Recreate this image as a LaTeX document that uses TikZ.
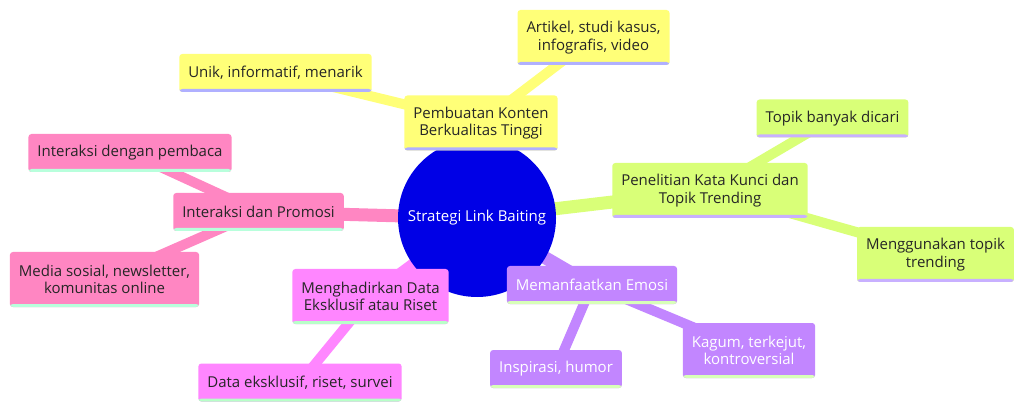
\documentclass[tikz,border=0pt]{standalone}
\usepackage{fontspec}
\setmainfont{Open Sans}
\usetikzlibrary{backgrounds}

\definecolor{rootblue}{RGB}{0,0,230}
\definecolor{secyellow}{RGB}{255,255,120}
\definecolor{secgreen}{RGB}{217,255,120}
\definecolor{secpurple}{RGB}{194,134,255}
\definecolor{secmagenta}{RGB}{255,134,255}
\definecolor{secpink}{RGB}{255,134,194}
\definecolor{lineyellow}{RGB}{176,176,255}
\definecolor{linegreen}{RGB}{200,176,255}
\definecolor{linepurple}{RGB}{216,255,184}
\definecolor{linemagenta}{RGB}{184,255,200}
\definecolor{linepink}{RGB}{184,255,220}

\begin{document}
\begin{tikzpicture}[x=1pt,y=-1pt,
  font=\fontsize{15}{17.5}\selectfont,
  mmbox/.style 2 args={fill=#1, rounded corners=3pt, align=center,
    inner xsep=9pt, inner ysep=0pt, minimum height=38pt, text=black!85,
    path picture={\fill[#2] ([yshift=3pt]path picture bounding box.south west)
      rectangle (path picture bounding box.south east);}},
  twoline/.style={minimum height=55pt},
  mainedge/.style={line width=13pt},
  subedge/.style={line width=10pt}]
\useasboundingbox (0,0) rectangle (1024,411);

% root
\node[circle, fill=rootblue, minimum size=158pt, inner sep=0pt, text=white]
  (root) at (477,218) {Strategi Link Baiting};

% branch Pembuatan Konten
\node[mmbox={secyellow}{lineyellow}, twoline] (konten) at (481,123)
  {Pembuatan Konten\\Berkualitas Tinggi};
\node[mmbox={secyellow}{lineyellow}] (unik) at (275.5,73) {Unik, informatif, menarik};
\node[mmbox={secyellow}{lineyellow}, twoline] (artikel) at (593.5,37.5)
  {Artikel, studi kasus,\\infografis, video};

% branch Penelitian Kata Kunci
\node[mmbox={secgreen}{linegreen}, twoline] (kunci) at (710,190.5)
  {Penelitian Kata Kunci dan\\Topik Trending};
\node[mmbox={secgreen}{linegreen}] (dicari) at (832.5,118.5) {Topik banyak dicari};
\node[mmbox={secgreen}{linegreen}, twoline] (trending) at (935.5,254.5)
  {Menggunakan topik\\trending};

% branch Memanfaatkan Emosi
\node[mmbox={secpurple}{linepurple}, text=white] (emosi) at (592,285) {Memanfaatkan Emosi};
\node[mmbox={secpurple}{linepurple}, text=white] (humor) at (556,369) {Inspirasi, humor};
\node[mmbox={secpurple}{linepurple}, text=white, twoline] (kagum) at (749,350.5)
  {Kagum, terkejut,\\kontroversial};

% branch Menghadirkan Data
\node[mmbox={secmagenta}{linemagenta}, twoline] (riset) at (370.5,296.5)
  {Menghadirkan Data\\Eksklusif atau Riset};
\node[mmbox={secmagenta}{linemagenta}] (survei) at (300,382.5)
  {Data eksklusif, riset, survei};

% branch Interaksi dan Promosi
\node[mmbox={secpink}{linepink}] (promosi) at (258.5,212) {Interaksi dan Promosi};
\node[mmbox={secpink}{linepink}] (pembaca) at (130,153) {Interaksi dengan pembaca};
\node[mmbox={secpink}{linepink}, twoline] (media) at (104.5,279.5)
  {Media sosial, newsletter,\\komunitas online};

% edges behind the nodes
\begin{pgfonlayer}{background}
\draw[mainedge, secyellow] (root.center) -- (konten.center);
\draw[subedge, secyellow] (konten.center) -- (unik.center);
\draw[subedge, secyellow] (konten.center) -- (artikel.center);
\draw[mainedge, secgreen] (root.center) -- (kunci.center);
\draw[subedge, secgreen] (kunci.center) -- (dicari.center);
\draw[subedge, secgreen] (kunci.center) -- (trending.center);
\draw[mainedge, secpurple] (root.center) -- (emosi.center);
\draw[subedge, secpurple] (emosi.center) -- (humor.center);
\draw[subedge, secpurple] (emosi.center) -- (kagum.center);
\draw[mainedge, secmagenta] (root.center) -- (riset.center);
\draw[subedge, secmagenta] (riset.center) -- (survei.center);
\draw[mainedge, secpink] (root.center) -- (promosi.center);
\draw[subedge, secpink] (promosi.center) -- (pembaca.center);
\draw[subedge, secpink] (promosi.center) -- (media.center);
\end{pgfonlayer}
\end{tikzpicture}
\end{document}
